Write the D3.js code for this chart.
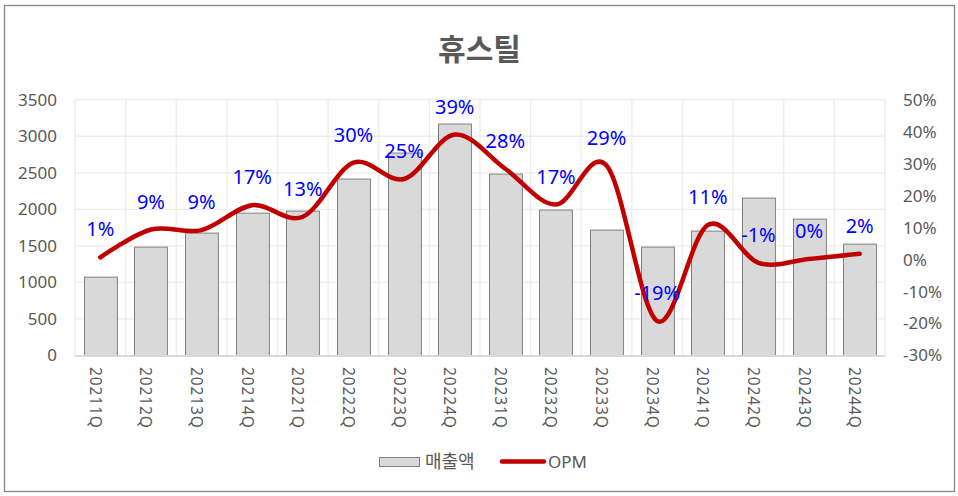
<!DOCTYPE html>
<html lang="ko">
<head>
<meta charset="UTF-8">
<title>휴스틸</title>
<script src="https://cdn.jsdelivr.net/npm/d3@7"></script>
<style>
  html, body { margin: 0; padding: 0; background: #fff; }
  text { font-family: "Noto Sans", "Noto Sans CJK KR", sans-serif; fill: #595959; }
  .grid line { stroke: #ececec; stroke-width: 1.3; }
  .bar { fill: #d9d9d9; stroke: #808080; stroke-width: 1; }
  .opm { fill: none; stroke: #c00000; stroke-width: 4.5; stroke-linecap: round; }
  .dlabel { fill: #0000ff; font-size: 20px; text-anchor: middle; }
</style>
</head>
<body>
<svg id="chart" width="958" height="496"></svg>
<script>
  // data
  const quarters = ['20211Q','20212Q','20213Q','20214Q','20221Q','20222Q','20223Q','20224Q',
                    '20231Q','20232Q','20233Q','20234Q','20241Q','20242Q','20243Q','20244Q']
  const sales = [1072, 1483, 1675, 1948, 1976, 2414, 2770, 3167,
                 2482, 1990, 1716, 1483, 1702, 2154, 1866, 1524]
  const opm = [0.7, 9.4, 9.2, 17.0, 13.4, 30.3, 25.2, 39.1,
               28.4, 17.2, 29.4, -19.2, 10.8, -1.0, 0.2, 1.8]
  const leftTicks = [0, 500, 1000, 1500, 2000, 2500, 3000, 3500]
  const rightTicks = [-30, -20, -10, 0, 10, 20, 30, 40, 50]

  const svg = d3.select('#chart')
  const plot = { left: 75, right: 885, top: 99.7, bottom: 355.5 }

  // outer border
  svg.append('rect')
    .attr('x', 4.5).attr('y', 5.5).attr('width', 950).attr('height', 486)
    .attr('fill', '#fff').attr('stroke', '#868686').attr('stroke-width', 1.3)

  // title
  svg.append('text')
    .attr('x', 479.5).attr('y', 60)
    .attr('text-anchor', 'middle')
    .style('font-family', '"Noto Sans CJK KR", sans-serif')
    .style('font-size', '30px').style('font-weight', 'bold')
    .text('휴스틸')

  // scales
  const x = d3.scaleBand().domain(quarters).range([plot.left, plot.right]).paddingInner(0.35).paddingOuter(0.175)
  const xCell = d3.scaleBand().domain(quarters).range([plot.left, plot.right])
  const y = d3.scaleLinear().domain([0, 3500]).range([plot.bottom, plot.top])
  const y2 = d3.scaleLinear().domain([-30, 50]).range([plot.bottom, plot.top])

  // grid
  const grid = svg.append('g').attr('class', 'grid')
  grid.selectAll('.h').data(leftTicks.slice(1)).enter().append('line')
    .attr('x1', plot.left).attr('x2', plot.right)
    .attr('y1', d => y(d)).attr('y2', d => y(d))
  grid.selectAll('.v').data(quarters).enter().append('line')
    .attr('x1', d => xCell(d) + xCell.bandwidth()).attr('x2', d => xCell(d) + xCell.bandwidth())
    .attr('y1', plot.top).attr('y2', plot.bottom)
  grid.append('line')
    .attr('x1', plot.left).attr('x2', plot.left)
    .attr('y1', plot.top).attr('y2', plot.bottom)

  // bars
  svg.selectAll('.bar').data(sales).enter().append('rect')
    .attr('class', 'bar')
    .attr('x', (d, i) => Math.round(x(quarters[i])) + 0.5)
    .attr('y', d => y(d))
    .attr('width', x.bandwidth())
    .attr('height', d => plot.bottom - y(d))

  // category axis line
  svg.append('line')
    .attr('x1', plot.left).attr('x2', plot.right)
    .attr('y1', plot.bottom + 0.5).attr('y2', plot.bottom + 0.5)
    .attr('stroke', '#d9d9d9').attr('stroke-width', 2)

  // left axis
  const yAxis = svg.append('g')
    .attr('transform', `translate(${plot.left - 18}, 0)`)
    .call(d3.axisLeft(y).tickValues(leftTicks).tickSize(0).tickPadding(0).tickFormat(d3.format('d')))
  yAxis.select('.domain').remove()
  yAxis.selectAll('text').style('font-size', '17px').attr('fill', '#595959')

  // right axis
  const y2Axis = svg.append('g')
    .attr('transform', `translate(${plot.right + 18}, 0)`)
    .call(d3.axisRight(y2).tickValues(rightTicks).tickSize(0).tickPadding(0).tickFormat(d => d + '%'))
  y2Axis.select('.domain').remove()
  y2Axis.selectAll('text').style('font-size', '17px').attr('fill', '#595959')

  // x labels (rotated)
  svg.selectAll('.xl').data(quarters).enter().append('text')
    .attr('transform', d => `translate(${xCell(d) + xCell.bandwidth() / 2 - 10.5}, 367) rotate(90)`)
    .style('font-size', '15.5px')
    .style('letter-spacing', '0.9px')
    .text(d => d)

  // OPM line
  const line = d3.line()
    .x((d, i) => xCell(quarters[i]) + xCell.bandwidth() / 2)
    .y(d => y2(d))
    .curve(d3.curveCatmullRom.alpha(0))
  svg.append('path').datum(opm).attr('class', 'opm').attr('d', line)

  // data labels
  svg.selectAll('.dlabel').data(opm).enter().append('text')
    .attr('class', 'dlabel')
    .attr('x', (d, i) => xCell(quarters[i]) + xCell.bandwidth() / 2)
    .attr('y', d => y2(d) - 21)
    .text(d => Math.round(d) + '%')

  // legend
  const legend = svg.append('g')
  legend.append('rect')
    .attr('x', 379.5).attr('y', 457.5).attr('width', 40).attr('height', 9)
    .attr('fill', '#d9d9d9').attr('stroke', '#808080')
  legend.append('text')
    .attr('x', 425).attr('y', 468)
    .style('font-family', '"Noto Sans CJK KR", sans-serif')
    .style('font-size', '18px')
    .text('매출액')
  legend.append('line')
    .attr('x1', 502).attr('x2', 544).attr('y1', 461.5).attr('y2', 461.5)
    .attr('stroke', '#c00000').attr('stroke-width', 4.5).attr('stroke-linecap', 'round')
  legend.append('text')
    .attr('x', 548).attr('y', 468)
    .style('font-size', '17px')
    .text('OPM')
</script>
</body>
</html>
